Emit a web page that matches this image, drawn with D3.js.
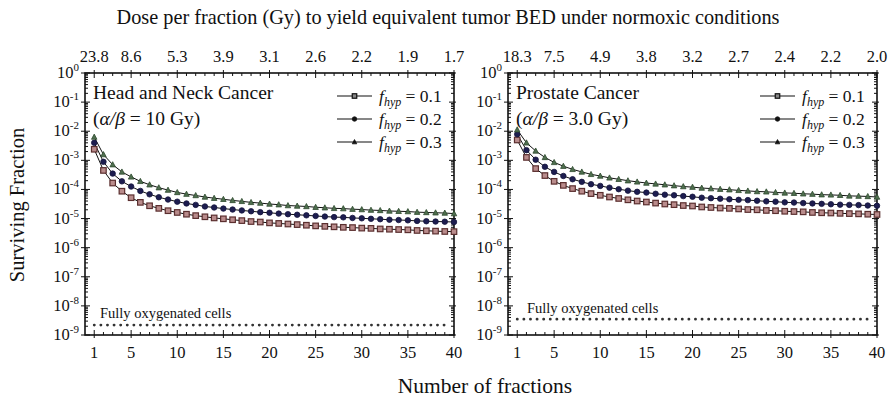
<!DOCTYPE html>
<html><head><meta charset="utf-8">
<script src="https://cdn.jsdelivr.net/npm/d3@7/dist/d3.min.js"></script>
<style>body{margin:0;background:#fff}svg{display:block}text{font-family:"Liberation Serif","DejaVu Serif",serif;fill:#111}</style>
</head><body><svg id="c" width="888" height="400"></svg>
<script>
const fractions = d3.range(1, 41);
const xTicks = [1, 5, 10, 15, 20, 25, 30, 35, 40];
const doseLabelsHN = ["23.8", "8.6", "5.3", "3.9", "3.1", "2.6", "2.2", "1.9", "1.7"];
const doseLabelsPC = ["18.3", "7.5", "4.9", "3.8", "3.2", "2.7", "2.4", "2.2", "2.0"];
const yExponents = [0, -1, -2, -3, -4, -5, -6, -7, -8, -9];
const hypFractions = ["0.1", "0.2", "0.3"];

// Head and Neck (alpha/beta = 10 Gy)
const hnF01 = [2.4e-3,4.5e-4,1.66e-4,8.7e-5,5.2e-5,3.6e-5,2.75e-5,2.24e-5,1.86e-5,1.62e-5,1.41e-5,1.26e-5,1.15e-5,1.05e-5,9.8e-6,9.1e-6,8.5e-6,7.9e-6,7.6e-6,7.1e-6,6.8e-6,6.5e-6,6.2e-6,5.9e-6,5.6e-6,5.4e-6,5.2e-6,5.0e-6,4.9e-6,4.7e-6,4.6e-6,4.4e-6,4.3e-6,4.2e-6,4.1e-6,3.9e-6,3.8e-6,3.7e-6,3.6e-6,3.55e-6];
const hnF02 = [4.0e-3,8.9e-4,3.5e-4,1.9e-4,1.26e-4,8.9e-5,6.8e-5,5.4e-5,4.5e-5,3.8e-5,3.3e-5,2.95e-5,2.6e-5,2.4e-5,2.2e-5,2.04e-5,1.9e-5,1.78e-5,1.66e-5,1.58e-5,1.48e-5,1.41e-5,1.35e-5,1.29e-5,1.23e-5,1.17e-5,1.12e-5,1.1e-5,1.05e-5,1.02e-5,9.8e-6,9.5e-6,9.1e-6,8.9e-6,8.7e-6,8.3e-6,8.1e-6,7.9e-6,7.8e-6,7.6e-6];
const hnF03 = [6.3e-3,1.58e-3,7.1e-4,4.0e-4,2.7e-4,1.9e-4,1.45e-4,1.15e-4,9.5e-5,7.9e-5,6.9e-5,6.2e-5,5.5e-5,5.0e-5,4.6e-5,4.2e-5,3.9e-5,3.6e-5,3.4e-5,3.16e-5,3.0e-5,2.8e-5,2.7e-5,2.6e-5,2.45e-5,2.35e-5,2.24e-5,2.2e-5,2.1e-5,2.04e-5,1.95e-5,1.9e-5,1.82e-5,1.78e-5,1.74e-5,1.66e-5,1.62e-5,1.58e-5,1.55e-5,1.48e-5];
const hnOxic = 2.2e-9;

// Prostate (alpha/beta = 3.0 Gy)
const pcF01 = [5.0e-3,1.26e-3,5.2e-4,3.0e-4,1.9e-4,1.38e-4,1.07e-4,8.7e-5,7.2e-5,6.3e-5,5.5e-5,4.9e-5,4.4e-5,4.0e-5,3.7e-5,3.4e-5,3.16e-5,3.0e-5,2.8e-5,2.7e-5,2.5e-5,2.4e-5,2.3e-5,2.24e-5,2.14e-5,2.04e-5,2.0e-5,1.9e-5,1.86e-5,1.78e-5,1.74e-5,1.7e-5,1.62e-5,1.58e-5,1.55e-5,1.51e-5,1.48e-5,1.45e-5,1.41e-5,1.38e-5];
const pcF02 = [7.9e-3,2.24e-3,1.05e-3,6.0e-4,4.0e-4,2.9e-4,2.24e-4,1.82e-4,1.51e-4,1.32e-4,1.15e-4,1.02e-4,9.1e-5,8.3e-5,7.8e-5,7.1e-5,6.6e-5,6.3e-5,5.9e-5,5.6e-5,5.2e-5,5.0e-5,4.8e-5,4.6e-5,4.4e-5,4.3e-5,4.1e-5,3.9e-5,3.8e-5,3.6e-5,3.55e-5,3.4e-5,3.3e-5,3.2e-5,3.1e-5,3.0e-5,2.95e-5,2.9e-5,2.8e-5,2.75e-5];
const pcF03 = [1.12e-2,4.0e-3,2.1e-3,1.26e-3,8.5e-4,6.3e-4,4.9e-4,4.0e-4,3.3e-4,2.9e-4,2.5e-4,2.24e-4,2.0e-4,1.82e-4,1.66e-4,1.55e-4,1.45e-4,1.35e-4,1.26e-4,1.2e-4,1.12e-4,1.07e-4,1.02e-4,9.8e-5,9.3e-5,8.9e-5,8.5e-5,8.3e-5,7.9e-5,7.6e-5,7.4e-5,7.1e-5,6.9e-5,6.6e-5,6.5e-5,6.3e-5,6.0e-5,5.9e-5,5.75e-5,5.5e-5];
const pcOxic = 3.5e-9;

const svg = d3.select("#c");
const yTop = 73, yBot = 335;

const panels = [
  {x0: 85, x1: 454, title: "Head and Neck Cancer", ab: "10 Gy", dose: doseLabelsHN, series: [hnF01, hnF02, hnF03], oxic: hnOxic, oxicLabelX: 100, oxicLabelY: 318},
  {x0: 508, x1: 877, title: "Prostate Cancer", ab: "3.0 Gy", dose: doseLabelsPC, series: [pcF01, pcF02, pcF03], oxic: pcOxic, oxicLabelX: 527, oxicLabelY: 313}
];

const markerStyles = [
  {type: "square", stroke: "#5b2f2f", fill: "#b98c8c"},
  {type: "circle", stroke: "#14143c", fill: "#1d1d4f"},
  {type: "triangle", stroke: "#2f4a2f", fill: "#4f6f4f"}
];

function drawMarker(g, type, cx, cy, st, s) {
  if (type === "square") {
    g.append("rect").attr("x", cx - s/2).attr("y", cy - s/2).attr("width", s).attr("height", s)
      .attr("fill", st.fill).attr("stroke", st.stroke).attr("stroke-width", 1.2);
  } else if (type === "circle") {
    g.append("circle").attr("cx", cx).attr("cy", cy).attr("r", s/2).attr("fill", st.fill).attr("stroke", st.stroke).attr("stroke-width", 0.8);
  } else {
    const h = s * 0.9;
    g.append("path").attr("d", `M${cx},${cy - h*0.6}L${cx + s/2},${cy + h*0.45}L${cx - s/2},${cy + h*0.45}Z`)
      .attr("fill", st.fill).attr("stroke", st.stroke).attr("stroke-width", 0.8);
  }
}

panels.forEach(p => {
  const x = d3.scaleLinear().domain([0, 40]).range([p.x0, p.x1]);
  const y = d3.scaleLog().domain([1e-9, 1]).range([yBot, yTop]);
  const g = svg.append("g");

  const minorX = d3.range(1, 40).filter(v => !xTicks.includes(v));
  const minorY = [];
  for (let e = -9; e < 0; e++) for (let m = 2; m <= 9; m++) minorY.push(m * Math.pow(10, e));

  const tk = g.append("g").attr("stroke", "#111").attr("stroke-width", 1);
  minorX.forEach(v => {
    tk.append("line").attr("x1", x(v)).attr("x2", x(v)).attr("y1", yBot).attr("y2", yBot - 3);
    tk.append("line").attr("x1", x(v)).attr("x2", x(v)).attr("y1", yTop).attr("y2", yTop + 3);
  });
  xTicks.forEach(v => {
    tk.append("line").attr("x1", x(v)).attr("x2", x(v)).attr("y1", yBot + 3).attr("y2", yBot - 5);
    tk.append("line").attr("x1", x(v)).attr("x2", x(v)).attr("y1", yTop - 3).attr("y2", yTop + 5);
  });
  minorY.forEach(v => {
    tk.append("line").attr("x1", p.x0).attr("x2", p.x0 + 3).attr("y1", y(v)).attr("y2", y(v));
    tk.append("line").attr("x1", p.x1).attr("x2", p.x1 - 3).attr("y1", y(v)).attr("y2", y(v));
  });
  yExponents.forEach(e => {
    const v = Math.pow(10, e);
    tk.append("line").attr("x1", p.x0 - 4).attr("x2", p.x0 + 5).attr("y1", y(v)).attr("y2", y(v));
    tk.append("line").attr("x1", p.x1 + 2).attr("x2", p.x1 - 5).attr("y1", y(v)).attr("y2", y(v));
  });

  g.append("rect").attr("x", p.x0).attr("y", yTop).attr("width", p.x1 - p.x0).attr("height", yBot - yTop)
    .attr("fill", "none").attr("stroke", "#111").attr("stroke-width", 1.6);

  xTicks.forEach(v => {
    g.append("text").attr("x", x(v)).attr("y", 358).attr("text-anchor", "middle").attr("font-size", 16.5).text(v);
  });
  xTicks.forEach((v, i) => {
    g.append("text").attr("x", x(v)).attr("y", 62).attr("text-anchor", "middle").attr("font-size", 16.5).text(p.dose[i]);
  });
  yExponents.forEach(e => {
    const t = g.append("text").attr("x", p.x0 - 6).attr("y", y(Math.pow(10, e)) + 5).attr("text-anchor", "end").attr("font-size", 16.5);
    t.append("tspan").text("10");
    t.append("tspan").attr("dy", -7).attr("font-size", 11).text(e === 0 ? "0" : e);
  });

  g.append("line").attr("x1", x(1)).attr("x2", x(40) - 4).attr("y1", y(p.oxic)).attr("y2", y(p.oxic))
    .attr("stroke", "#333").attr("stroke-width", 2.8).attr("stroke-dasharray", "0.1,6.5").attr("stroke-linecap", "round");
  g.append("text").attr("x", p.oxicLabelX).attr("y", p.oxicLabelY).attr("font-size", 14.5).attr("fill", "#333").text("Fully oxygenated cells");

  const line = d3.line().x((d, i) => x(fractions[i])).y(d => y(d));
  p.series.forEach(s => {
    g.append("path").datum(s).attr("d", line).attr("fill", "none").attr("stroke", "#111").attr("stroke-width", 1);
  });
  p.series.forEach((s, si) => {
    const mg = g.append("g");
    s.forEach((v, i) => drawMarker(mg, markerStyles[si].type, x(fractions[i]), y(v), markerStyles[si], 5.5));
  });

  g.append("text").attr("x", p.x0 + 8).attr("y", 99).attr("font-size", 19.5).text(p.title);
  const ab = g.append("text").attr("x", p.x0 + 8).attr("y", 125).attr("font-size", 19.5);
  ab.append("tspan").text("(");
  ab.append("tspan").attr("font-style", "italic").text("α/β");
  ab.append("tspan").text(" = " + p.ab + ")");

  const lx0 = p.x1 - 117, lx1 = p.x1 - 82;
  hypFractions.forEach((f, i) => {
    const ly = 96 + i * 23;
    g.append("line").attr("x1", lx0).attr("x2", lx1).attr("y1", ly).attr("y2", ly).attr("stroke", "#111").attr("stroke-width", 1.2);
    drawMarker(g, markerStyles[i].type, (lx0 + lx1) / 2, ly, {stroke: "#111", fill: i === 0 ? "#888" : "#111"}, 4.5);
    const t = g.append("text").attr("x", lx1 + 7).attr("y", ly + 6).attr("font-size", 17.5);
    t.append("tspan").attr("font-style", "italic").text("f");
    t.append("tspan").attr("font-style", "italic").attr("font-size", 12).attr("dy", 4).text("hyp");
    t.append("tspan").attr("dy", -4).text(" = " + f);
  });
});

svg.append("text").attr("x", 448).attr("y", 24).attr("text-anchor", "middle").attr("font-size", 20.3)
  .text("Dose per fraction (Gy) to yield equivalent tumor BED under normoxic conditions");
svg.append("text").attr("x", 485).attr("y", 393).attr("text-anchor", "middle").attr("font-size", 21.5).text("Number of fractions");
svg.append("text").attr("transform", "translate(24,205) rotate(-90)").attr("text-anchor", "middle").attr("font-size", 20.5).text("Surviving Fraction");
</script></body></html>
